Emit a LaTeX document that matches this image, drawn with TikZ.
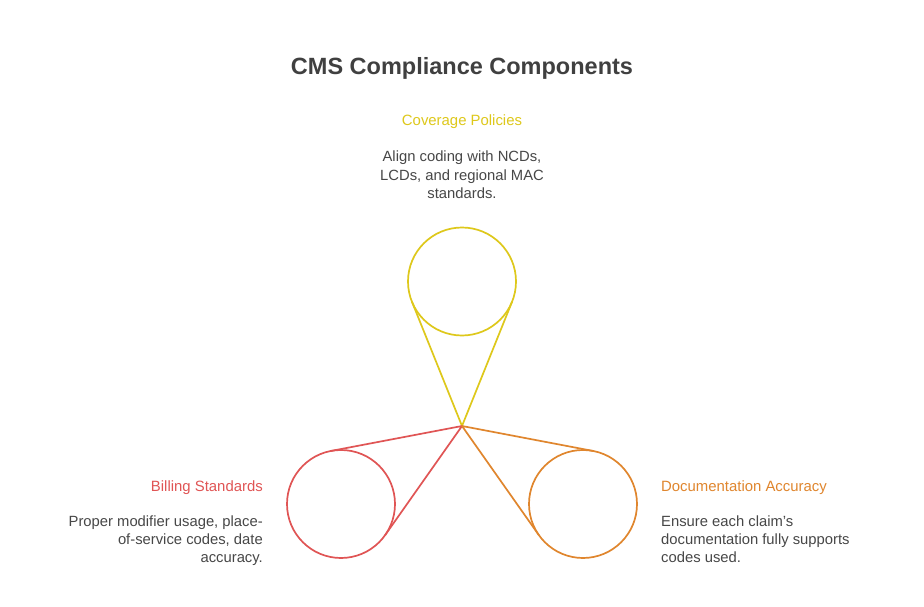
\documentclass[tikz,border=0pt]{standalone}
\usepackage{fontspec}
\setmainfont{Liberation Sans}
\usetikzlibrary{calc}
\definecolor{cy}{HTML}{DEC81B}
\definecolor{cr}{HTML}{E05555}
\definecolor{co}{HTML}{E0862E}
\definecolor{ct}{HTML}{474747}
\definecolor{ctitle}{HTML}{404040}
\tikzset{
  ring/.style={circle, draw, line width=1.7pt, minimum size=108pt, inner sep=0pt, outer sep=0pt},
  link/.style={line width=1.7pt, line join=round},
  body/.style={font=\fontsize{14.8}{18}\selectfont, text=ct, inner sep=0pt},
  head/.style={font=\fontsize{14.9}{18}\selectfont, inner sep=0pt},
}
\begin{document}
\begin{tikzpicture}[x=1pt,y=-1pt]
\useasboundingbox[fill=white] (0,0) rectangle (924,607);
\node[font=\fontsize{23.5}{28}\selectfont\bfseries, text=ctitle, anchor=base, inner sep=0pt] (title) at (462,75) {CMS Compliance Components};

\coordinate (apex) at (462,426);
\node[ring, draw=cy] (cov) at (462,281.5) {};
\node[ring, draw=cr] (bill) at (341,504) {};
\node[ring, draw=co] (doc) at (583,504) {};

\draw[link, cy] (tangent cs:node=cov,point={(apex)},solution=1) -- (apex) -- (tangent cs:node=cov,point={(apex)},solution=2);
\draw[link, cr] (tangent cs:node=bill,point={(apex)},solution=1) -- (apex) -- (tangent cs:node=bill,point={(apex)},solution=2);
\draw[link, co] (tangent cs:node=doc,point={(apex)},solution=1) -- (apex) -- (tangent cs:node=doc,point={(apex)},solution=2);

% Coverage Policies
\node[head, text=cy, anchor=base] (covh) at (462,125.5) {Coverage Policies};
\node[body, anchor=base] (covb1) at (462,162) {Align coding with NCDs,};
\node[body, anchor=base] (covb2) at (462,180) {LCDs, and regional MAC};
\node[body, anchor=base] (covb3) at (462,198) {standards.};

% Billing Standards
\node[head, text=cr, anchor=base east] (billh) at (263,491) {Billing Standards};
\node[body, anchor=base east] (billb1) at (263,526.5) {Proper modifier usage, place-};
\node[body, anchor=base east] (billb2) at (263,544.5) {of-service codes, date};
\node[body, anchor=base east] (billb3) at (263,562.5) {accuracy.};

% Documentation Accuracy
\node[head, text=co, anchor=base west] (doch) at (661,491) {Documentation Accuracy};
\node[body, anchor=base west] (docb1) at (661,526.5) {Ensure each claim’s};
\node[body, anchor=base west] (docb2) at (661,544.5) {documentation fully supports};
\node[body, anchor=base west] (docb3) at (661,562.5) {codes used.};
\end{tikzpicture}
\end{document}
